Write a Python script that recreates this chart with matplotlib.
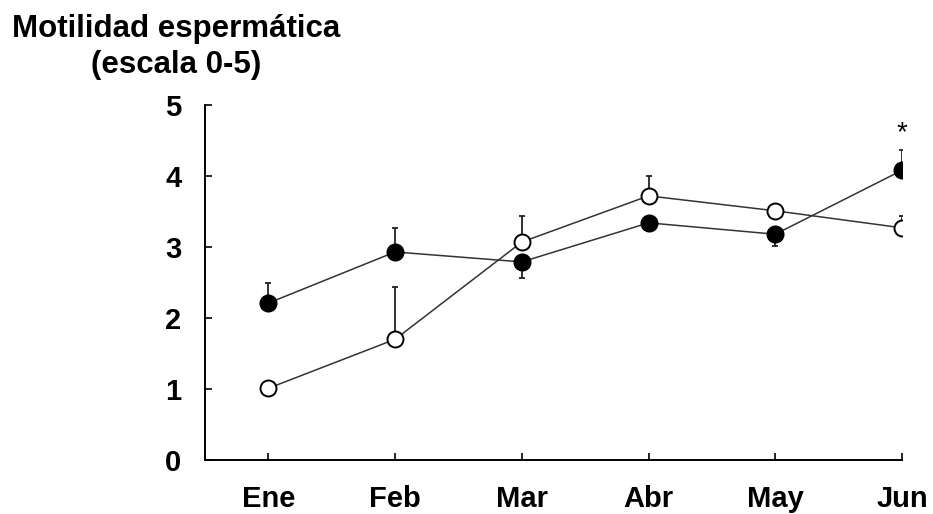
import matplotlib.pyplot as plt

plt.rcParams['font.family'] = ['Liberation Sans', 'DejaVu Sans']

meses = ['Ene', 'Feb', 'Mar', 'Abr', 'May', 'Jun']

# grupo 1 (circulos rellenos)
lleno = [2.21, 2.93, 2.79, 3.34, 3.18, 4.08]
lleno_err_sup = [0.29, 0.34, 0.0, 0.0, 0.0, 0.29]
lleno_err_inf = [0.0, 0.0, 0.23, 0.12, 0.17, 0.0]

# grupo 2 (circulos vacios)
vacio = [1.01, 1.70, 3.07, 3.72, 3.51, 3.27]
vacio_err_sup = [0.0, 0.73, 0.37, 0.28, 0.0, 0.17]
vacio_err_inf = [0, 0, 0, 0, 0, 0]

x = list(range(len(meses)))

fig = plt.figure(figsize=(9.33, 5.14), dpi=100)
ax = fig.add_axes([205/933, 1 - 460/514, 697/933, 355/514])

ax.errorbar(x, vacio, yerr=[vacio_err_inf, vacio_err_sup], fmt='none',
            ecolor='#222222', elinewidth=1.3, capsize=2.5, capthick=1.3, zorder=2)
ax.errorbar(x, lleno, yerr=[lleno_err_inf, lleno_err_sup], fmt='none',
            ecolor='#222222', elinewidth=1.3, capsize=2.5, capthick=1.3, zorder=2)

ax.plot(x, vacio, '-o', color='#333333', lw=1.1, markersize=11.5,
        markerfacecolor='white', markeredgecolor='black', markeredgewidth=1.4, zorder=3)
ax.plot(x, lleno, '-o', color='#333333', lw=1.1, markersize=12,
        markerfacecolor='black', markeredgecolor='black', zorder=4)

ax.text(5, 4.6, '*', ha='center', va='center', fontsize=20)

ax.set_xlim(-0.5, 5)
ax.set_ylim(0, 5)
ax.set_xticks(x)
ax.set_xticklabels(meses, fontsize=21, fontweight='bold')
ax.set_yticks(range(6))
ax.set_yticklabels([str(i) for i in range(6)], fontsize=21, fontweight='bold')
ax.tick_params(axis='both', direction='in', length=5, width=1.2)
ax.tick_params(axis='x', pad=18)
ax.tick_params(axis='y', pad=17)

for s in ['top', 'right']:
    ax.spines[s].set_visible(False)
for s in ['left', 'bottom']:
    ax.spines[s].set_linewidth(1.4)

fig.text(176/933, 1 - 47/514, 'Motilidad espermática\n(escala 0-5)', ha='center', va='center',
         fontsize=22.5, fontweight='bold', linespacing=1.3)

fig.savefig('out.png', dpi=100)
